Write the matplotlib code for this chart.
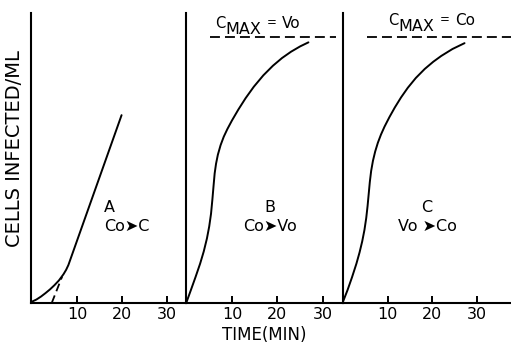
import matplotlib
matplotlib.use("Agg")
import matplotlib.pyplot as plt

plt.rcParams['font.family'] = ['DejaVu Sans']

# Time (min) and relative infected-cell concentration (C / Cmax)
a_time = [0.0, 1.0, 2.0, 3.0, 4.0, 5.0, 6.0, 7.0, 7.6, 8.1, 19.9]
a_cells = [0.005, 0.013, 0.024, 0.037, 0.051, 0.067, 0.085, 0.108, 0.125, 0.143, 0.707]
a_extrap_time = [4.4, 6.7]
a_extrap_cells = [0.0, 0.099]

b_time = [0.05, 1.0, 2.0, 3.0, 3.8, 4.5, 5.0, 5.4, 5.7, 5.95, 6.2, 6.5, 6.9,
          7.5, 8.2, 9.0, 10.0, 11.4, 13.0, 14.8, 16.9, 19.0, 21.0, 23.0, 25.0, 26.8]
b_cells = [0.005, 0.05, 0.098, 0.148, 0.194, 0.243, 0.288, 0.336, 0.39, 0.44, 0.488,
           0.524, 0.558, 0.594, 0.626, 0.655, 0.687, 0.728, 0.771, 0.814, 0.857,
           0.893, 0.922, 0.946, 0.966, 0.981]

c_time = [0.0, 1.0, 2.0, 3.0, 3.7, 4.3, 4.8, 5.2, 5.5, 5.75, 6.0, 6.3, 6.7, 7.2,
          7.8, 8.5, 9.3, 10.4, 11.6, 13.0, 14.5, 16.3, 18.3, 20.2, 22.0, 24.5, 27.2]
c_cells = [0.005, 0.048, 0.096, 0.148, 0.19, 0.232, 0.275, 0.32, 0.365, 0.41, 0.455,
           0.497, 0.535, 0.57, 0.603, 0.634, 0.664, 0.70, 0.736, 0.774, 0.81, 0.847,
           0.881, 0.908, 0.93, 0.956, 0.978]

c_max = 1.0
b_cmax_span = [5.2, 32.9]
c_cmax_span = [5.4, 37.6]

tick_values = [10, 20, 30]
tick_labels = ['10', '20', '30']

W, H = 511, 347
fig = plt.figure(figsize=(W / 100, H / 100), dpi=100)
fig.patch.set_facecolor('white')

bottom_px, top_px = 303, 13


def make_axes(left_px, right_px, xlim):
    ax = fig.add_axes([left_px / W, (H - bottom_px) / H,
                       (right_px - left_px) / W, (bottom_px - top_px) / H])
    ax.set_xlim(*xlim)
    ax.set_ylim(0, 1.0915)
    for side in ('top', 'right'):
        ax.spines[side].set_visible(False)
    for side in ('left', 'bottom'):
        ax.spines[side].set_linewidth(1.5)
        ax.spines[side].set_color('black')
    ax.set_yticks([])
    ax.set_xticks(tick_values)
    ax.set_xticklabels(tick_labels, fontsize=11.5)
    ax.tick_params(axis='x', direction='in', length=5, width=1.4, pad=3,
                   colors='black')
    ax.patch.set_alpha(0)
    return ax


ax_a = make_axes(31, 186, (-0.2, 34.2))
ax_b = make_axes(186, 343, (-0.1, 34.4))
ax_c = make_axes(343, 511, (0.0, 37.6))

line_kw = dict(color='black', lw=1.4, solid_capstyle='round',
               solid_joinstyle='round')

# Panel A: curve with extrapolated linear part
ax_a.plot(a_time, a_cells, **line_kw)
ax_a.plot(a_extrap_time, a_extrap_cells, color='black', lw=1.3,
          linestyle=(0, (4.5, 2.5)))
ax_a.text(16.0, 0.361, 'A', fontsize=11.5, ha='left', va='center')
ax_a.text(16.0, 0.290, 'Co\u27a4C', fontsize=11.5, ha='left', va='center')

# Panel B
ax_b.plot(b_time, b_cells, **line_kw)
ax_b.plot(b_cmax_span, [c_max, c_max], color='black', lw=1.3,
          linestyle=(0, (5.5, 2.8)), clip_on=False)
ax_b.text(18.4, 0.361, 'B', fontsize=11.5, ha='center', va='center')
ax_b.text(18.4, 0.290, 'Co\u27a4Vo', fontsize=11.5, ha='center', va='center')

# Panel C
ax_c.plot(c_time, c_cells, **line_kw)
ax_c.plot(c_cmax_span, [c_max, c_max], color='black', lw=1.3,
          linestyle=(0, (5.5, 2.8)), clip_on=False)
ax_c.text(18.8, 0.361, 'C', fontsize=11.5, ha='center', va='center')
ax_c.text(18.8, 0.290, 'Vo \u27a4Co', fontsize=11.5, ha='center', va='center')


def cmax_label(ax, x, y, value):
    px = 0.72  # points per pixel at 100 dpi
    kw = dict(xy=(x, y), xycoords='data', textcoords='offset points',
              ha='left', va='baseline', annotation_clip=False)
    ax.annotate('C', xytext=(0, 0), fontsize=10.5, **kw)
    ax.annotate('MAX', xytext=(10 * px, -6 * px), fontsize=11.5, **kw)
    ax.annotate('=', xytext=(52 * px, 2 * px), fontsize=8.5, **kw)
    ax.annotate(value, xytext=(67 * px, 0), fontsize=11, **kw)


cmax_label(ax_b, 6.3, 1.035, 'Vo')
cmax_label(ax_c, 10.1, 1.046, 'Co')

fig.text(264 / W, 1 - 335 / H, 'TIME(MIN)', fontsize=12, ha='center', va='center')
fig.text(15 / W, 1 - 149 / H, 'CELLS INFECTED/ML', fontsize=14, ha='center',
         va='center', rotation=90)

fig.savefig('out.png', dpi=100)
